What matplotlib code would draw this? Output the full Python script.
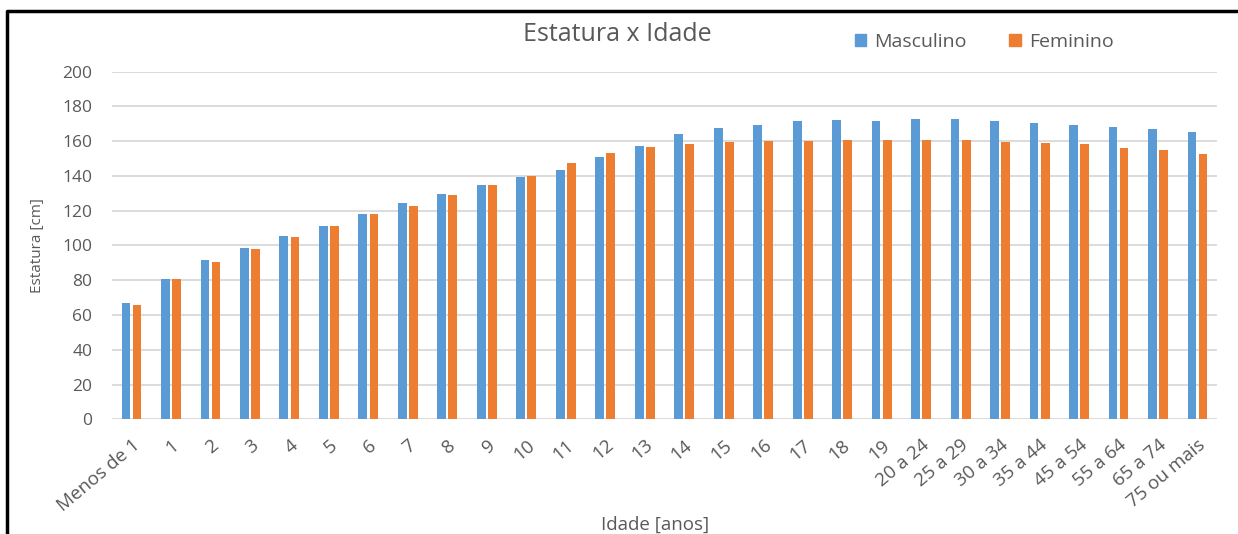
import matplotlib
matplotlib.use("Agg")
import matplotlib.pyplot as plt
from matplotlib.patches import Patch
from matplotlib.lines import Line2D
import numpy as np

plt.rcParams['font.family'] = ['Open Sans', 'DejaVu Sans']

idades = ['Menos de 1', '1', '2', '3', '4', '5', '6', '7', '8', '9', '10',
          '11', '12', '13', '14', '15', '16', '17', '18', '19',
          '20 a 24', '25 a 29', '30 a 34', '35 a 44', '45 a 54',
          '55 a 64', '65 a 74', '75 ou mais']

masculino = [67.1, 80.9, 91.4, 98.5, 105.6, 111.3, 118.2, 124.2, 129.5, 134.7,
             139.5, 143.3, 150.6, 157.1, 163.8, 167.6, 169.5, 171.3, 172.2,
             171.8, 172.8, 172.8, 171.3, 170.5, 169.5, 168.0, 166.7, 165.1]

feminino = [66.0, 80.9, 90.3, 97.8, 104.8, 111.3, 118.2, 122.8, 128.9, 134.7,
            140.0, 147.2, 152.9, 156.7, 158.6, 159.6, 160.0, 160.0, 160.9,
            160.9, 160.9, 160.4, 159.6, 159.0, 158.1, 156.1, 154.6, 152.5]

azul = '#5B9BD5'
laranja = '#ED7D31'
cinza = '#595959'

fig = plt.figure(figsize=(12.38, 5.34), dpi=100)
ax = fig.add_axes([0.0902, 0.2148, 0.8931, 0.6512])

x = np.arange(len(idades))
w = 0.22
ax.bar(x - 0.14, masculino, w, color=azul, zorder=3)
ax.bar(x + 0.14, feminino, w, color=laranja, zorder=3)

ax.set_xlim(-0.5, len(idades) - 0.5)
ax.set_ylim(0, 200)
ax.set_yticks(range(0, 201, 20))
ax.yaxis.grid(True, color='#d9d9d9', linewidth=1.3, zorder=0)
for s in ax.spines.values():
    s.set_visible(False)
ax.tick_params(length=0, labelcolor=cinza)
ax.tick_params(axis='y', labelsize=12.5, pad=14)
ax.set_xticks(x)
ax.set_xticklabels(idades, rotation=40, ha='right', rotation_mode='anchor')
ax.tick_params(axis='x', labelsize=13.5, pad=12)

fig.text(0.03, 0.54, 'Estatura [cm]', rotation=90, ha='center', va='center',
         fontsize=11, color=cinza)
fig.text(0.529, 0.018, 'Idade [anos]', ha='center', va='center',
         fontsize=13.5, color=cinza)
fig.text(0.499, 0.935, 'Estatura x Idade', ha='center', va='center',
         fontsize=18, color=cinza)

handles = [Patch(color=azul, label='Masculino'),
           Patch(color=laranja, label='Feminino')]
fig.legend(handles=handles, ncol=2, loc='center', bbox_to_anchor=(0.795, 0.922),
           frameon=False, fontsize=14, labelcolor=cinza, handlelength=0.6,
           handleheight=0.6, handletextpad=0.4, columnspacing=2.2)

# moldura preta (topo e esquerda)
fig.add_artist(Line2D([7 / 1238, 7 / 1238, 1.0], [0.0, 1 - 11 / 534, 1 - 11 / 534],
                      transform=fig.transFigure, color='black', linewidth=2.5))

fig.savefig('out.png', dpi=100, facecolor='white')
